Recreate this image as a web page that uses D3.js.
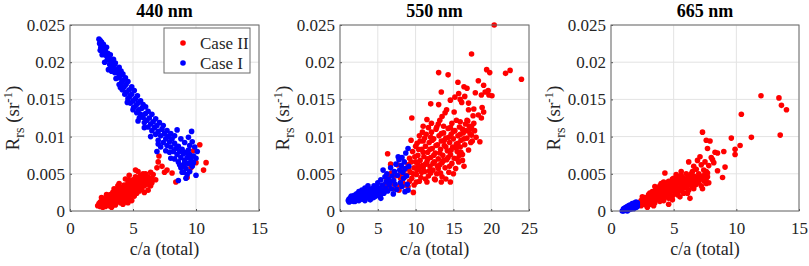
<!DOCTYPE html>
<html>
<head>
<meta charset="utf-8">
<script src="https://cdn.jsdelivr.net/npm/d3@7"></script>
<style>
  body { margin: 0; background: #fff; }
  svg { display: block; }
  svg text { font-family: "Liberation Serif", "Times New Roman", Times, serif !important; }
</style>
</head>
<body>
<div id="chart"></div>
<script>
// panel titles and axis ticks
const titles = ["440 nm", "550 nm", "665 nm"];
const xTicks = [[0, 5, 10, 15], [0, 5, 10, 15, 20, 25], [0, 5, 10, 15]];
const yTicks = [0, 0.005, 0.01, 0.015, 0.02, 0.025];
const yTickLabels = ["0", "0.005", "0.01", "0.015", "0.02", "0.025"];
const seriesNames = ["Case II", "Case I"];

// 440 nm  [c/a, Rrs]
const caseII_440 = [[2.2,.0007],[2.3,.0010],[2.4,.0006],[2.5,.0013],[2.6,.0008],[2.6,.0017],[2.7,.0011],[2.8,.0006],[2.8,.0015],[2.9,.0009],[3.0,.0013],[3.0,.0019],[3.1,.0007],[3.1,.0016],[3.2,.0011],[3.2,.0022],[3.3,.0014],[3.3,.0009],[3.4,.0018],[3.4,.0025],[3.5,.0012],[3.5,.0021],[3.6,.0016],[3.6,.0008],[3.7,.0024],[3.7,.0019],[3.8,.0013],[3.8,.0029],[3.9,.0022],[3.9,.0017],[4.0,.0026],[4.0,.0011],[4.0,.0032],[4.1,.0020],[4.1,.0015],[4.2,.0028],[4.2,.0023],[4.3,.0018],[4.3,.0035],[4.4,.0026],[4.4,.0012],[4.5,.0030],[4.5,.0021],[4.6,.0025],[4.6,.0038],[4.7,.0017],[4.7,.0032],[4.8,.0028],[4.8,.0022],[4.9,.0036],[4.9,.0014],[5.0,.0031],[5.0,.0026],[5.0,.0042],[5.1,.0020],[5.1,.0034],[5.2,.0029],[5.2,.0046],[5.3,.0024],[5.3,.0038],[5.4,.0032],[5.4,.0053],[5.5,.0027],[5.5,.0041],[5.6,.0035],[5.6,.0048],[5.7,.0030],[5.8,.0039],[5.8,.0044],[5.9,.0034],[6.0,.0042],[6.0,.0050],[6.1,.0037],[6.2,.0046],[6.3,.0040],[6.4,.0034],[6.5,.0044],[6.6,.0049],[6.2,.0028],[5.9,.0025],[6.8,.0042],[6.4,.0052],[5.2,.0055],[4.7,.0048],[4.4,.0043],[3.9,.0037],[3.5,.0030],[2.9,.0022],[2.5,.0018],[3.3,.0005],[4.2,.0009],[4.6,.0011],[3.6,.0027],[3.4,.0010],[3.8,.0020],[4.1,.0029],[4.3,.0024],[4.5,.0016],[4.7,.0026],[4.9,.0030],[5.1,.0040],[5.3,.0031],[5.5,.0036],[5.7,.0043],[4.0,.0018],[3.7,.0014],[3.1,.0012],[2.7,.0014],[4.6,.0033],[4.8,.0040],[5.4,.0045],[5.8,.0050],[6.1,.0045],[6.3,.0035],[2.4,.0012],[2.6,.0005],[3.0,.0009],[3.2,.0016],[3.5,.0024],[3.8,.0034],[4.1,.0025],[4.4,.0033],[4.7,.0041],[5.0,.0038],[5.3,.0043],[5.6,.0040],[5.9,.0047],[6.2,.0040],[6.5,.0038],[4.9,.0025],[4.2,.0032],[3.6,.0019],[7.06,.0074],[7.0,.0066],[7.3,.0060],[7.5,.0052],[7.7,.0055],[8.1,.0051],[8.4,.0039],[9.05,.0060],[9.3,.0045],[9.8,.0081],[10.0,.0065],[10.3,.0089],[10.6,.0055],[10.8,.0065],[9.6,.0058],[6.9,.0058]];
const caseI_440 = [[2.3,.0231],[2.4,.0229],[2.35,.0225],[2.5,.0227],[2.55,.0222],[2.45,.0220],[2.65,.0224],[2.7,.0218],[2.6,.0214],[2.8,.0215],[2.9,.0220],[2.85,.0209],[3.0,.0212],[3.1,.0206],[2.95,.0203],[3.2,.0210],[3.3,.0201],[3.15,.0197],[3.45,.0204],[3.5,.0196],[3.35,.0192],[3.6,.0199],[3.7,.0190],[3.55,.0186],[3.8,.0185],[3.9,.0179],[3.65,.0178],[4.0,.0182],[4.1,.0173],[3.9,.0170],[4.25,.0176],[4.3,.0167],[4.15,.0163],[4.45,.0170],[4.5,.0160],[4.35,.0157],[4.7,.0163],[4.75,.0154],[4.6,.0151],[4.9,.0157],[5.0,.0148],[4.8,.0145],[5.2,.0151],[5.25,.0142],[5.05,.0139],[5.4,.0145],[5.45,.0136],[5.3,.0132],[5.7,.0138],[5.6,.0130],[5.8,.0126],[5.5,.0125],[6.0,.0131],[6.1,.0122],[5.9,.0119],[6.3,.0125],[6.4,.0117],[6.2,.0113],[6.6,.0120],[6.7,.0112],[6.5,.0108],[6.9,.0115],[7.0,.0107],[6.8,.0103],[7.3,.0110],[7.2,.0101],[7.5,.0104],[7.6,.0097],[7.0,.0095],[7.4,.0092],[7.8,.0100],[7.9,.0093],[8.1,.0097],[7.7,.0088],[8.0,.0086],[8.3,.0091],[8.4,.0084],[8.2,.0080],[7.6,.0081],[8.6,.0087],[8.7,.0080],[8.5,.0076],[8.9,.0083],[9.0,.0077],[8.8,.0072],[9.2,.0079],[9.3,.0072],[9.1,.0068],[9.5,.0076],[9.6,.0069],[9.4,.0064],[8.6,.0066],[9.0,.0062],[9.7,.0060],[9.2,.0057],[9.8,.0065],[10.0,.0071],[8.8,.0058],[9.5,.0053],[9.3,.0049],[9.0,.0052],[10.0,.0048],[9.2,.0044],[8.6,.0041],[10.1,.0080],[9.9,.0086],[8.5,.0109],[9.65,.0107],[9.4,.0099],[9.7,.0093],[6.9,.0080],[7.2,.0086],[8.0,.0071],[3.9,.0193],[4.05,.0188],[4.2,.0184],[3.3,.0188],[3.05,.0190],[2.75,.0200],[2.55,.0210],[2.4,.0216],[4.4,.0179],[4.6,.0174],[4.0,.0166],[4.9,.0167],[5.1,.0162],[4.55,.0146],[5.35,.0155],[5.6,.0148],[5.0,.0136],[5.8,.0143],[6.0,.0140],[5.4,.0121],[6.2,.0134],[6.5,.0130],[5.9,.0112],[6.8,.0124],[7.1,.0119],[6.4,.0100],[7.4,.0115],[7.0,.0090],[7.7,.0108],[8.0,.0104],[8.3,.0101],[8.8,.0097],[9.1,.0092],[9.5,.0088],[7.9,.0079],[8.3,.0070],[8.7,.0062],[9.4,.0082],[9.8,.0074],[9.1,.0064],[8.9,.0052]];

// 550 nm
const caseII_550 = [[20.4,.0250],[17.4,.0211],[13.05,.0186],[14.3,.0183],[19.4,.0190],[19.8,.0186],[21.9,.0185],[22.5,.0189],[24.0,.0177],[15.6,.0173],[18.3,.0175],[19.0,.0169],[16.4,.0167],[16.8,.0165],[19.6,.0162],[19.2,.0160],[18.7,.0156],[19.7,.0156],[20.1,.0155],[17.9,.0159],[13.4,.0160],[15.7,.0158],[15.2,.0153],[15.9,.0150],[16.5,.0154],[16.1,.0146],[14.6,.0149],[12.0,.0144],[13.05,.0143],[14.1,.0136],[13.9,.0132],[13.5,.0127],[13.2,.0122],[15.1,.0133],[17.0,.0136],[17.7,.0137],[19.0,.0133],[18.3,.0129],[9.5,.0125],[11.5,.0123],[15.4,.0122],[15.9,.0120],[16.8,.0122],[17.4,.0114],[17.3,.0111],[11.0,.0114],[12.1,.0118],[12.8,.0113],[13.7,.0114],[18.5,.0093],[17.3,.0092],[16.2,.0068],[14.6,.0039],[13.4,.0039],[12.6,.0042],[11.5,.0039],[10.1,.0039],[9.7,.0025],[6.3,.0077],[6.7,.0063],[6.8,.0051],[6.2,.0042],[7.05,.0037],[7.9,.0033],[8.5,.0055],[8.8,.0048],[9.0,.0062],[9.2,.0071],[9.3,.0052],[9.5,.0044],[9.6,.0080],[9.8,.0058],[10.0,.0066],[10.1,.0049],[10.2,.0091],[10.3,.0075],[10.4,.0057],[10.5,.0101],[10.6,.0068],[10.7,.0045],[10.8,.0083],[10.9,.0061],[11.0,.0094],[11.1,.0073],[11.2,.0053],[11.3,.0087],[11.4,.0103],[11.5,.0066],[11.6,.0079],[11.7,.0047],[11.8,.0092],[11.9,.0060],[12.0,.0072],[12.1,.0106],[12.2,.0084],[12.3,.0055],[12.4,.0097],[12.5,.0066],[12.6,.0078],[12.7,.0110],[12.8,.0050],[12.9,.0089],[13.0,.0070],[13.1,.0101],[13.2,.0062],[13.3,.0083],[13.4,.0094],[13.5,.0046],[13.6,.0075],[13.7,.0105],[13.8,.0088],[13.9,.0058],[14.0,.0098],[14.1,.0069],[14.2,.0081],[14.3,.0111],[14.4,.0052],[14.5,.0092],[14.6,.0076],[14.7,.0103],[14.8,.0064],[14.9,.0086],[15.0,.0097],[15.1,.0071],[15.2,.0108],[15.3,.0057],[15.4,.0090],[15.5,.0080],[15.6,.0101],[15.7,.0066],[15.8,.0113],[15.9,.0086],[16.0,.0095],[16.2,.0076],[16.3,.0105],[16.5,.0089],[16.6,.0117],[16.8,.0098],[17.0,.0082],[17.2,.0104],[17.5,.0094],[17.8,.0108],[18.0,.0099],[16.4,.0060],[15.0,.0050],[14.0,.0043],[12.5,.0043],[11.3,.0043],[10.5,.0040],[9.2,.0040],[9.8,.0035],[8.5,.0045],[8.0,.0050],[7.6,.0062],[7.3,.0047],[6.9,.0039],[6.5,.0030],[6.0,.0036],[5.7,.0029],[5.5,.0024],[7.8,.0028],[8.3,.0038],[9.0,.0033],[10.0,.0087],[11.0,.0058],[12.0,.0051],[13.0,.0057],[13.5,.0065],[14.5,.0060],[15.5,.0070],[16.0,.0079],[12.2,.0095],[11.7,.0112],[10.6,.0094],[9.4,.0095],[10.9,.0106],[13.0,.0117],[14.8,.0118],[16.9,.0121],[18.7,.0125],[17.6,.0128],[18.8,.0139],[17.0,.0145],[6.5,.0047],[7.2,.0030],[8.0,.0044],[8.7,.0035],[9.1,.0056],[9.4,.0066],[9.7,.0050],[9.9,.0073],[10.3,.0062],[10.4,.0083],[10.8,.0052],[11.0,.0079],[11.3,.0063],[11.6,.0070],[11.9,.0083],[12.3,.0064],[12.4,.0075],[12.7,.0088],[12.9,.0060],[13.2,.0078],[13.4,.0104],[13.7,.0068],[14.0,.0086],[14.3,.0072],[14.4,.0099],[14.7,.0082],[15.0,.0107],[15.3,.0085],[15.6,.0091],[15.9,.0103],[16.2,.0110],[16.4,.0097],[16.7,.0108],[17.1,.0114],[17.4,.0102],[17.7,.0118],[12.0,.0099],[11.2,.0098],[13.8,.0095],[14.6,.0112],[10.2,.0055],[11.8,.0054],[13.3,.0051],[15.8,.0075]];
const caseI_550 = [[1.1,.0014],[1.2,.0016],[1.3,.0013],[1.4,.0018],[1.5,.0015],[1.6,.0014],[1.7,.0019],[1.8,.0016],[1.9,.0021],[2.0,.0015],[2.1,.0018],[2.2,.0023],[2.3,.0016],[2.4,.0020],[2.5,.0026],[2.6,.0017],[2.7,.0022],[2.8,.0019],[2.9,.0028],[3.0,.0016],[3.1,.0024],[3.2,.0020],[3.3,.0031],[3.4,.0017],[3.5,.0026],[3.6,.0022],[3.7,.0034],[3.8,.0019],[3.9,.0028],[4.0,.0024],[4.1,.0017],[4.2,.0030],[4.3,.0021],[4.4,.0026],[4.5,.0034],[4.6,.0019],[4.7,.0029],[4.85,.0033],[4.9,.0023],[5.0,.0038],[5.1,.0026],[5.2,.0031],[5.3,.0020],[5.4,.0042],[5.5,.0028],[5.6,.0035],[5.7,.0055],[5.8,.0024],[5.95,.0046],[6.0,.0031],[6.1,.0039],[6.2,.0050],[6.3,.0027],[6.4,.0043],[6.5,.0035],[6.6,.0039],[6.7,.0058],[6.8,.0030],[6.9,.0047],[7.05,.0023],[7.1,.0041],[7.2,.0053],[7.3,.0036],[7.4,.0063],[7.5,.0029],[7.6,.0048],[7.7,.0073],[7.8,.0069],[7.9,.0055],[8.0,.0038],[8.1,.0061],[8.2,.0033],[8.3,.0052],[8.4,.0044],[8.5,.0066],[8.6,.0057],[8.6,.0026],[8.7,.0078],[8.8,.0047],[8.9,.0036],[9.0,.0084],[9.0,.0028],[9.1,.0060],[8.2,.0072],[1.5,.0020],[2.0,.0013],[2.5,.0014],[3.0,.0021],[3.5,.0018],[4.0,.0015],[1.2,.0012],[1.8,.0013],[2.2,.0017],[2.7,.0016],[3.3,.0014],[3.8,.0024],[4.4,.0018],[5.0,.0021],[5.4,.0017]];

// 665 nm
const caseII_665 = [[11.97,.0155],[13.4,.0152],[13.6,.0142],[14.0,.0136],[13.5,.0102],[10.4,.0130],[11.2,.0099],[9.6,.0098],[7.3,.0106],[7.6,.0095],[7.9,.0094],[10.3,.0088],[9.9,.0083],[9.9,.0076],[9.0,.0080],[9.1,.0059],[8.9,.0045],[7.7,.0084],[8.5,.0078],[8.3,.0079],[8.1,.0069],[8.2,.0065],[8.0,.0072],[8.5,.0054],[7.8,.0038],[6.2,.0066],[4.3,.0051],[6.3,.0017],[4.6,.0009],[2.2,.0008],[2.3,.0011],[2.4,.0007],[2.5,.0012],[2.6,.0009],[2.6,.0015],[2.7,.0011],[2.8,.0008],[2.8,.0016],[2.9,.0012],[3.0,.0019],[3.0,.0010],[3.1,.0014],[3.2,.0018],[3.2,.0009],[3.3,.0022],[3.3,.0013],[3.4,.0017],[3.5,.0026],[3.5,.0011],[3.6,.0020],[3.6,.0015],[3.7,.0024],[3.8,.0018],[3.8,.0030],[3.9,.0013],[3.9,.0022],[4.0,.0027],[4.0,.0017],[4.1,.0032],[4.1,.0021],[4.2,.0025],[4.2,.0014],[4.3,.0029],[4.3,.0036],[4.4,.0020],[4.4,.0024],[4.5,.0033],[4.5,.0027],[4.6,.0017],[4.6,.0040],[4.7,.0030],[4.7,.0023],[4.8,.0035],[4.8,.0027],[4.9,.0043],[4.9,.0020],[5.0,.0032],[5.0,.0037],[5.1,.0025],[5.1,.0041],[5.2,.0030],[5.2,.0035],[5.3,.0046],[5.3,.0022],[5.4,.0038],[5.4,.0031],[5.5,.0043],[5.5,.0027],[5.6,.0036],[5.6,.0048],[5.7,.0033],[5.7,.0040],[5.8,.0024],[5.8,.0044],[5.9,.0037],[6.0,.0050],[6.0,.0031],[6.1,.0041],[6.1,.0035],[6.2,.0046],[6.2,.0028],[6.3,.0039],[6.4,.0044],[6.4,.0034],[6.5,.0053],[6.5,.0038],[6.6,.0030],[6.6,.0047],[6.7,.0041],[6.8,.0036],[6.8,.0056],[6.9,.0045],[7.0,.0039],[7.0,.0050],[7.1,.0043],[7.2,.0062],[7.2,.0034],[7.3,.0047],[7.4,.0041],[7.4,.0055],[7.5,.0049],[7.6,.0044],[7.6,.0037],[7.7,.0051],[7.7,.0046],[6.1,.0024],[5.5,.0019],[4.9,.0015],[3.4,.0007],[2.5,.0019],[3.1,.0024],[3.7,.0029],[4.2,.0039],[5.2,.0049],[6.9,.0068],[7.1,.0073],[7.5,.0066],[7.8,.0061],[6.6,.0060],[5.6,.0053],[2.9,.0005],[7.3,.0030],[2.4,.0014],[2.7,.0018],[3.0,.0022],[3.3,.0026],[3.6,.0031],[3.9,.0034],[4.2,.0019],[4.5,.0022],[4.8,.0031],[5.1,.0033],[5.4,.0027],[5.7,.0030],[6.0,.0040],[6.3,.0045],[6.6,.0042],[6.9,.0039],[7.2,.0046],[7.5,.0040],[7.0,.0044],[6.7,.0035],[5.9,.0043],[5.3,.0041],[4.7,.0038],[4.4,.0030],[3.9,.0026],[3.4,.0021],[2.9,.0016],[6.4,.0050],[5.0,.0044],[4.0,.0037],[7.6,.0053],[3.5,.0033]];
const caseI_665 = [[0.9,.0000],[1.0,.0001],[1.0,.0003],[1.1,.0002],[1.1,.0004],[1.2,.0001],[1.2,.0003],[1.2,.0005],[1.3,.0002],[1.3,.0004],[1.3,.0006],[1.4,.0003],[1.4,.0005],[1.4,.0007],[1.5,.0002],[1.5,.0004],[1.5,.0006],[1.5,.0008],[1.6,.0003],[1.6,.0005],[1.6,.0007],[1.7,.0004],[1.7,.0006],[1.7,.0008],[1.7,.0010],[1.8,.0003],[1.8,.0005],[1.8,.0007],[1.8,.0009],[1.9,.0004],[1.9,.0006],[1.9,.0008],[1.9,.0011],[2.0,.0005],[2.0,.0007],[2.0,.0009],[2.0,.0012],[2.1,.0006],[2.1,.0009],[2.1,.0011],[1.0,.0000],[1.3,.0000]];

const redSets = [caseII_440, caseII_550, caseII_665];
const blueSets = [caseI_440, caseI_550, caseI_665];

// layout
const W = 809, H = 266;
const panelLeft = [70, 340, 611];
const panelWidth = [189, 189, 188];
const plotTop = 25, plotBottom = 211;
const dotR = 2.8;

const svg = d3.select("#chart").append("svg")
    .attr("width", W).attr("height", H);

titles.forEach((title, i) => {
    const h = plotBottom - plotTop;
    const x = d3.scaleLinear()
        .domain([0, xTicks[i][xTicks[i].length - 1]])
        .range([0, panelWidth[i]]);
    const y = d3.scaleLinear().domain([0, 0.025]).range([h, 0]);

    const g = svg.append("g").attr("transform", `translate(${panelLeft[i]},${plotTop})`);

    // grid
    g.append("g").selectAll("line").data(xTicks[i]).enter().append("line")
        .attr("x1", d => x(d)).attr("x2", d => x(d))
        .attr("y1", 0).attr("y2", h)
        .attr("stroke", "#e3e3e3");
    g.append("g").selectAll("line").data(yTicks).enter().append("line")
        .attr("y1", d => y(d)).attr("y2", d => y(d))
        .attr("x1", 0).attr("x2", panelWidth[i])
        .attr("stroke", "#e3e3e3");

    // points: Case II (red) then Case I (blue)
    g.append("g").selectAll("circle").data(redSets[i]).enter().append("circle")
        .attr("cx", d => x(d[0])).attr("cy", d => y(d[1]))
        .attr("r", dotR).attr("fill", "#ff0000");
    g.append("g").selectAll("circle").data(blueSets[i]).enter().append("circle")
        .attr("cx", d => x(d[0])).attr("cy", d => y(d[1]))
        .attr("r", dotR).attr("fill", "#0000ff");

    // axes
    const xAxis = g.append("g")
        .attr("transform", `translate(0,${h})`)
        .call(d3.axisBottom(x).tickValues(xTicks[i]).tickFormat(d3.format("d"))
            .tickSizeInner(-2).tickSizeOuter(0).tickPadding(11));
    const yAxis = g.append("g")
        .call(d3.axisLeft(y).tickValues(yTicks).tickFormat((d, k) => yTickLabels[k])
            .tickSizeInner(-2).tickSizeOuter(0).tickPadding(5));
    [xAxis, yAxis].forEach(a => {
        a.select(".domain").remove();
        a.selectAll("line").attr("stroke", "#555");
        a.selectAll("text").attr("font-size", 17).attr("fill", "#262626");
    });

    // box
    g.append("rect")
        .attr("width", panelWidth[i]).attr("height", h)
        .attr("fill", "none").attr("stroke", "#6b6b6b");

    // title
    svg.append("text")
        .attr("x", panelLeft[i] + panelWidth[i] / 2).attr("y", 17)
        .attr("text-anchor", "middle")
        .style("font-size", "18px").style("font-weight", "bold")
        .text(title);

    // x label
    svg.append("text")
        .attr("x", panelLeft[i] + panelWidth[i] / 2).attr("y", 255)
        .attr("text-anchor", "middle")
        .style("font-size", "18px").attr("fill", "#262626")
        .text("c/a (total)");

    // y label
    const yl = svg.append("text")
        .attr("transform", `translate(${panelLeft[i] - 51},${(plotTop + plotBottom) / 2}) rotate(-90)`)
        .attr("text-anchor", "middle")
        .style("font-size", "19px").attr("fill", "#262626");
    yl.append("tspan").text("R");
    yl.append("tspan").attr("dy", 5).style("font-size", "14px").text("rs");
    yl.append("tspan").attr("dy", -5).text(" (sr");
    yl.append("tspan").attr("dy", -7).style("font-size", "13px").text("-1");
    yl.append("tspan").attr("dy", 7).text(")");

    // legend (first panel only)
    if (i === 0) {
        const lg = g.append("g").attr("transform", `translate(94,3)`);
        lg.append("rect").attr("width", 86).attr("height", 45)
            .attr("fill", "#fff").attr("stroke", "#6b6b6b");
        seriesNames.forEach((name, k) => {
            lg.append("circle").attr("cx", 19).attr("cy", 15 + k * 20).attr("r", dotR)
                .attr("fill", k === 0 ? "#ff0000" : "#0000ff");
            lg.append("text").attr("x", 36).attr("y", 21 + k * 20)
                .style("font-size", "17px").attr("fill", "#262626").text(name);
        });
    }
});
</script>
</body>
</html>
